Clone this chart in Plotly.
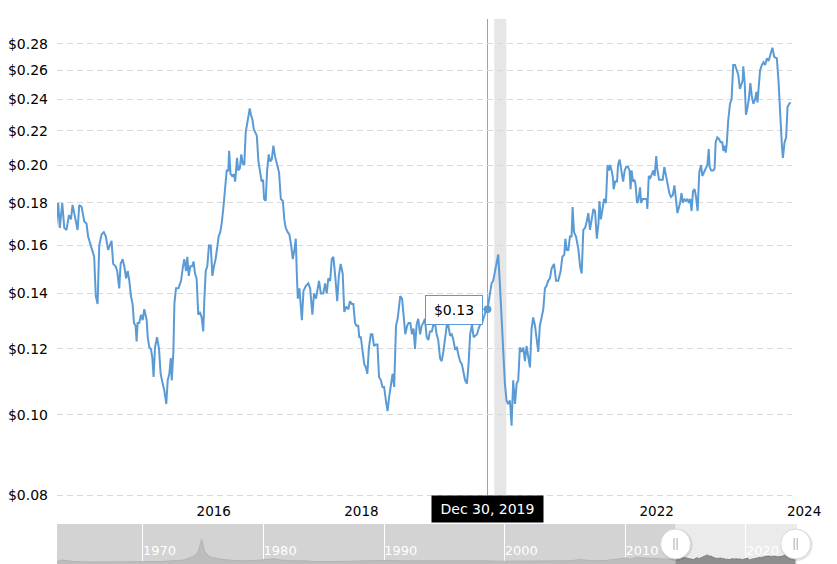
import math
import pandas as pd
import plotly.graph_objects as go

# ---------------- data ----------------
dates = [
"2014-02-23","2014-03-06","2014-03-14","2014-03-26","2014-04-05","2014-04-16","2014-04-28","2014-05-08","2014-05-16","2014-05-28",
"2014-06-10","2014-06-18","2014-06-30","2014-07-13","2014-07-24","2014-08-01","2014-08-10","2014-08-21","2014-08-31","2014-09-08",
"2014-09-17","2014-09-25","2014-10-07","2014-10-18","2014-10-28","2014-11-08","2014-11-17","2014-11-25","2014-12-03","2014-12-15",
"2014-12-23",
"2015-01-02","2015-01-09","2015-01-19","2015-01-27","2015-02-05","2015-02-13","2015-02-21","2015-03-01","2015-03-09","2015-03-16",
"2015-03-24","2015-03-29","2015-04-03","2015-04-11","2015-04-20","2015-04-28","2015-05-06","2015-05-18","2015-05-23","2015-05-31",
"2015-06-08","2015-06-15","2015-06-21","2015-06-28","2015-07-08","2015-07-18","2015-07-26","2015-08-05","2015-08-13","2015-08-23",
"2015-08-30","2015-09-07","2015-09-14","2015-09-19","2015-09-27","2015-10-02","2015-10-10","2015-10-22","2015-11-04","2015-11-12",
"2015-11-20","2015-11-29","2015-12-05","2015-12-12","2015-12-20","2015-12-29",
"2016-01-05","2016-01-12","2016-01-20","2016-01-28","2016-02-05","2016-02-14","2016-02-22","2016-02-27","2016-03-05","2016-03-13",
"2016-03-21","2016-03-30","2016-04-07","2016-04-15","2016-04-23","2016-05-01","2016-05-08","2016-05-16","2016-05-23","2016-05-31",
"2016-06-08","2016-06-17","2016-06-25","2016-06-29","2016-07-06","2016-07-14","2016-07-23","2016-07-29","2016-08-07","2016-08-13",
"2016-08-21","2016-08-28","2016-09-04","2016-09-12","2016-09-19","2016-09-25","2016-10-02","2016-10-09","2016-10-15","2016-10-22",
"2016-10-29","2016-11-04","2016-11-13","2016-11-21","2016-11-29","2016-12-07","2016-12-14","2016-12-19","2016-12-27",
"2017-01-03","2017-01-11","2017-01-18","2017-01-26","2017-02-03","2017-02-11","2017-02-20","2017-03-03","2017-03-12","2017-03-22",
"2017-03-29","2017-04-05","2017-04-15","2017-04-23","2017-05-02","2017-05-10","2017-05-18","2017-05-25","2017-05-30","2017-06-04",
"2017-06-12","2017-06-24","2017-07-02","2017-07-14","2017-07-26","2017-08-04","2017-08-15","2017-08-23","2017-09-02","2017-09-09",
"2017-09-17","2017-09-26","2017-10-08","2017-10-17","2017-10-25","2017-11-02","2017-11-11","2017-11-19","2017-11-27","2017-12-06",
"2017-12-16","2017-12-24",
"2018-01-02","2018-01-12","2018-01-20","2018-01-29","2018-02-09","2018-02-17","2018-02-26","2018-03-06","2018-03-14","2018-03-22",
"2018-03-30","2018-04-04","2018-04-12","2018-04-21","2018-04-29","2018-05-07","2018-05-14","2018-05-22","2018-05-31","2018-06-08",
"2018-06-16","2018-06-25","2018-07-03","2018-07-11","2018-07-20","2018-07-28","2018-08-05","2018-08-14","2018-08-22","2018-08-30",
"2018-09-08","2018-09-16","2018-09-24","2018-10-03","2018-10-11","2018-10-24","2018-11-02","2018-11-10","2018-11-18","2018-11-27",
"2018-12-04","2018-12-13","2018-12-21","2018-12-29",
"2019-01-05","2019-01-13","2019-01-21","2019-01-30","2019-02-07","2019-02-15","2019-02-23","2019-03-04","2019-03-12","2019-03-20",
"2019-03-29","2019-04-05","2019-04-14","2019-04-22","2019-04-30","2019-05-09","2019-05-17","2019-05-25","2019-06-03","2019-06-11",
"2019-06-19","2019-06-28","2019-07-06","2019-07-14","2019-07-22","2019-07-31","2019-08-08","2019-08-16","2019-08-25","2019-09-02",
"2019-09-10","2019-09-19","2019-09-27","2019-10-05","2019-10-14","2019-10-22","2019-10-30","2019-11-08","2019-11-16","2019-11-24",
"2019-12-03","2019-12-11","2019-12-20","2019-12-30",
"2020-01-11","2020-01-19","2020-01-27","2020-02-05","2020-02-13","2020-02-21","2020-02-29","2020-03-09","2020-03-17","2020-03-25",
"2020-04-02","2020-04-10","2020-04-19","2020-04-27","2020-05-05","2020-05-14","2020-05-22","2020-05-30","2020-06-07","2020-06-16",
"2020-06-24","2020-07-02","2020-07-10","2020-07-18","2020-07-27","2020-08-04","2020-08-12","2020-08-21","2020-08-29","2020-09-06",
"2020-09-14","2020-09-23","2020-10-01","2020-10-09","2020-10-17","2020-10-25","2020-11-03","2020-11-11","2020-11-23","2020-12-03",
"2020-12-14","2020-12-26",
"2021-01-03","2021-01-13","2021-01-18","2021-01-25","2021-02-02","2021-02-10","2021-02-18","2021-02-23","2021-03-02","2021-03-12",
"2021-03-24","2021-04-01","2021-04-09","2021-04-17","2021-04-26","2021-05-04","2021-05-12","2021-05-20","2021-05-29","2021-06-06",
"2021-06-14","2021-06-23","2021-07-01","2021-07-06","2021-07-13","2021-07-21","2021-07-29","2021-08-07","2021-08-15","2021-08-22",
"2021-08-28","2021-09-04","2021-09-11","2021-09-14","2021-09-22","2021-10-01","2021-10-06","2021-10-14","2021-10-22","2021-10-31",
"2021-11-08","2021-11-16","2021-11-24","2021-12-02","2021-12-07","2021-12-12","2021-12-19","2021-12-26","2021-12-31",
"2022-01-08","2022-01-14","2022-01-23","2022-01-28","2022-02-05","2022-02-16","2022-02-25","2022-02-28","2022-03-07","2022-03-15",
"2022-03-22","2022-03-30","2022-04-05","2022-04-13","2022-04-18","2022-04-27","2022-05-07","2022-05-15","2022-05-23","2022-06-01",
"2022-06-09","2022-06-17","2022-06-25","2022-07-04","2022-07-12","2022-07-19","2022-07-27","2022-08-04","2022-08-09","2022-08-16",
"2022-08-23","2022-08-29","2022-09-07","2022-09-15","2022-09-22","2022-09-28","2022-10-05","2022-10-12","2022-10-20","2022-10-27",
"2022-11-04","2022-11-12","2022-11-21","2022-11-27","2022-12-06","2022-12-14","2022-12-22","2022-12-29",
"2023-01-02","2023-01-10","2023-01-20","2023-01-27","2023-02-01","2023-02-09","2023-02-17","2023-02-26","2023-03-06","2023-03-11",
"2023-03-18","2023-03-23","2023-03-28","2023-04-04","2023-04-13","2023-04-21","2023-04-29","2023-05-08","2023-05-16","2023-05-24",
"2023-06-01","2023-06-08","2023-06-15","2023-06-18","2023-06-25","2023-07-01","2023-07-08","2023-07-16","2023-07-23","2023-07-30",
"2023-08-07","2023-08-15","2023-08-22","2023-08-27","2023-09-03","2023-09-09","2023-09-18","2023-09-26","2023-10-04","2023-10-13",
"2023-10-21","2023-10-29","2023-11-09","2023-11-18","2023-12-01","2023-12-09","2023-12-18","2023-12-26","2023-12-31",
"2024-01-08","2024-01-16","2024-01-23","2024-01-31","2024-02-07",
]

prices = [
0.168,0.180,0.168,0.180,0.168,0.167,0.174,0.172,0.179,0.173,
0.167,0.179,0.178,0.171,0.170,0.164,0.161,0.157,0.155,0.139,
0.136,0.160,0.165,0.166,0.164,0.158,0.160,0.162,0.152,0.151,
0.149,
0.142,0.152,0.154,0.151,0.146,0.149,0.145,0.139,0.136,0.129,
0.128,0.1225,0.129,0.129,0.132,0.130,0.134,0.130,0.124,0.1205,
0.120,0.117,0.111,0.1205,0.124,0.120,0.112,0.109,0.107,0.103,
0.110,0.112,0.117,0.110,0.119,0.136,0.142,0.142,0.145,0.150,
0.154,0.149,0.155,0.147,0.151,0.151,
0.153,0.148,0.146,0.132,0.133,0.131,0.126,0.137,0.149,0.151,
0.160,0.160,0.147,0.151,0.154,0.159,0.164,0.166,0.170,0.177,
0.185,0.197,0.197,0.208,0.195,0.194,0.195,0.191,0.204,0.197,
0.198,0.206,0.201,0.200,0.219,0.223,0.229,0.234,0.230,0.227,
0.221,0.219,0.217,0.202,0.197,0.191,0.192,0.182,0.181,
0.197,0.206,0.202,0.203,0.211,0.205,0.201,0.196,0.182,0.181,
0.172,0.168,0.166,0.165,0.160,0.154,0.158,0.163,0.148,0.138,
0.142,0.130,0.141,0.143,0.144,0.142,0.132,0.140,0.138,0.142,
0.145,0.140,0.140,0.144,0.140,0.146,0.145,0.154,0.155,0.147,
0.137,0.147,
0.152,0.148,0.133,0.135,0.134,0.137,0.136,0.136,0.129,0.128,
0.128,0.124,0.124,0.119,0.115,0.114,0.112,0.1205,0.125,0.125,
0.121,0.1215,0.1215,0.111,0.110,0.108,0.108,0.104,0.101,0.105,
0.108,0.112,0.108,0.128,0.1305,0.139,0.138,0.132,0.125,0.128,
0.129,0.129,0.125,0.127,
0.120,0.1285,0.1305,0.125,0.128,0.129,0.1305,0.124,0.123,0.126,
0.126,0.128,0.129,0.125,0.123,0.117,0.116,0.119,0.124,0.128,
0.128,0.1245,0.125,0.123,0.120,0.1205,0.118,0.116,0.115,0.112,
0.110,0.109,0.115,0.125,0.1285,0.124,0.1245,0.125,0.127,0.1285,
0.129,0.131,0.133,0.134,
0.140,0.144,0.145,0.149,0.153,0.156,0.144,0.129,0.117,0.109,
0.104,0.103,0.104,0.097,0.110,0.103,0.109,0.110,0.1205,0.119,
0.1205,0.116,0.121,0.118,0.114,0.127,0.131,0.128,0.124,0.119,
0.128,0.132,0.134,0.142,0.143,0.145,0.146,0.150,0.152,0.145,
0.145,0.149,
0.155,0.156,0.163,0.158,0.158,0.164,0.164,0.178,0.166,0.164,
0.158,0.151,0.148,0.167,0.168,0.171,0.175,0.167,0.173,0.177,
0.176,0.163,0.170,0.181,0.172,0.177,0.182,0.180,0.200,0.197,
0.200,0.197,0.193,0.187,0.191,0.191,0.200,0.203,0.197,0.191,
0.197,0.199,0.199,0.197,0.187,0.197,0.191,0.192,0.190,
0.180,0.181,0.188,0.180,0.182,0.182,0.182,0.177,0.194,0.193,
0.195,0.197,0.194,0.205,0.198,0.192,0.192,0.192,0.199,0.194,
0.190,0.185,0.183,0.184,0.189,0.181,0.175,0.178,0.180,0.185,
0.180,0.182,0.181,0.182,0.180,0.182,0.176,0.186,0.187,0.183,
0.176,0.196,0.200,0.194,0.196,0.198,0.200,0.209,
0.199,0.197,0.197,0.198,0.213,0.216,0.215,0.213,0.213,0.208,
0.211,0.207,0.212,0.226,0.237,0.240,0.264,0.264,0.261,0.257,
0.247,0.250,0.253,0.263,0.251,0.230,0.234,0.241,0.251,0.242,
0.237,0.240,0.245,0.238,0.252,0.260,0.264,0.266,0.264,0.269,
0.267,0.272,0.277,0.270,0.269,0.253,0.226,0.211,0.204,
0.213,0.216,0.235,0.237,0.238,
]

# hovered point shown in the tooltip
hover_date = ["2019-12-30"]
hover_value = [0.134]
hover_label = "$0.13"
hover_date_label = "Dec 30, 2019"

# recession band
recession_start = "2020-02-01"
recession_end = "2020-04-01"

# x-axis ticks (the 2020 label is hidden behind the date label in the reference)
x_tickvals = ["2016-01-01", "2018-01-01", "2022-01-01", "2024-01-01"]
x_ticktext = ["2016", "2018", "2022", "2024"]

# y-axis ticks
y_tickvals = [0.08, 0.10, 0.12, 0.14, 0.16, 0.18, 0.20, 0.22, 0.24, 0.26, 0.28]
y_ticktext = ["$0.08", "$0.10", "$0.12", "$0.14", "$0.16", "$0.18", "$0.20", "$0.22", "$0.24", "$0.26", "$0.28"]

# navigator (full history, before the selected window)
nav_dates = [
"1962-11-15","1963-05-01","1963-11-01","1964-06-01","1965-06-01","1966-06-01","1967-06-01","1968-06-01","1969-06-01","1970-06-01",
"1971-06-01","1972-06-01","1973-06-01","1974-04-01","1974-08-01","1974-11-15","1975-02-01","1975-07-01","1976-06-01","1977-06-01",
"1978-06-01","1979-06-01","1980-05-01","1980-11-01","1981-06-01","1982-06-01","1983-06-01","1984-06-01","1985-06-01","1986-06-01",
"1987-06-01","1988-06-01","1989-06-01","1990-06-01","1991-06-01","1992-06-01","1993-06-01","1994-06-01","1995-06-01","1996-06-01",
"1997-06-01","1998-06-01","1999-06-01","2000-06-01","2001-06-01","2002-06-01","2003-06-01","2004-06-01","2005-06-01","2006-03-01",
"2007-06-01","2008-06-01","2009-09-01","2010-02-01","2010-06-01","2011-01-01","2011-06-01","2012-06-01","2013-06-01","2014-02-23",
]
nav_values = [
0.06,0.10,0.08,0.06,0.05,0.05,0.05,0.05,0.06,0.06,
0.06,0.08,0.10,0.20,0.30,0.62,0.33,0.18,0.12,0.09,
0.08,0.09,0.11,0.13,0.10,0.08,0.08,0.06,0.06,0.06,
0.07,0.08,0.09,0.09,0.08,0.08,0.08,0.09,0.09,0.09,
0.09,0.08,0.07,0.07,0.07,0.07,0.07,0.07,0.08,0.11,
0.08,0.09,0.13,0.15,0.12,0.17,0.15,0.13,0.12,0.12,
]
nav_tick0 = "1970-01-01"

# ---------------- layout constants ----------------
W, H = 837, 564
ML, MR, MT, MB = 57, 40, 19, 0
main_range = ["2014-02-28", "2024-02-14"]
nav_range = ["1962-11-15", "2024-03-25"]
LINE = "#5b9bd5"
FONT = "DejaVu Sans"
PX_PER_DECADE = 829.0

plot_w = W - ML - MR
plot_h = H - MT - MB
main_dom_x = [0, (792 - ML) / plot_w]
# the main panel reaches 2px below the $0.08 grid line so that line is drawn
main_dom_y = [(H - 497 - MB) / plot_h, 1]
y_lo = math.log10(0.08) - 2 / PX_PER_DECADE
nav_dom_y = [0, 40 / plot_h]


def nav_paper_x(d):
    t0 = pd.Timestamp(nav_range[0]).value
    t1 = pd.Timestamp(nav_range[1]).value
    return (pd.Timestamp(d).value - t0) / (t1 - t0)


fig = go.Figure()

# main series
fig.add_trace(go.Scatter(
    x=dates, y=prices, mode="lines",
    line=dict(color=LINE, width=2),
    xaxis="x", yaxis="y", hoverinfo="skip", showlegend=False,
))
# hovered marker
fig.add_trace(go.Scatter(
    x=hover_date, y=hover_value, mode="markers",
    marker=dict(color=LINE, size=7, line=dict(color=LINE, width=1)),
    xaxis="x", yaxis="y", hoverinfo="skip", showlegend=False,
))

# navigator series: history (unselected) + selected window
fig.add_trace(go.Scatter(
    x=nav_dates, y=nav_values, mode="lines", fill="tozeroy",
    line=dict(color="#b4b4b4", width=1), fillcolor="#bdbdbd",
    xaxis="x2", yaxis="y2", hoverinfo="skip", showlegend=False,
))
fig.add_trace(go.Scatter(
    x=dates, y=prices, mode="lines", fill="tozeroy",
    line=dict(color="#7d7d7d", width=1), fillcolor="#8e8e8e",
    xaxis="x2", yaxis="y2", hoverinfo="skip", showlegend=False,
))

band_top = math.log10(0.30)
band_bot = math.log10(0.08)
shapes = [
    # recession band
    dict(type="rect", xref="x", yref="y", x0=recession_start, x1=recession_end,
         y0=0.08, y1=0.30, fillcolor="#e6e6e6", line=dict(width=0), layer="below"),
    # crosshair
    dict(type="line", xref="x", yref="y", x0=hover_date[0], x1=hover_date[0],
         y0=0.08, y1=0.30, line=dict(color="#a0a0a0", width=1), layer="below"),
    # navigator backgrounds
    dict(type="rect", xref="x2", yref="y2 domain", x0=nav_range[0], x1=main_range[0],
         y0=0, y1=1, fillcolor="#d3d3d3", line=dict(width=0), layer="below"),
    dict(type="rect", xref="x2", yref="y2 domain", x0=main_range[0], x1=nav_range[1],
         y0=0, y1=1, fillcolor="#ebebeb", line=dict(width=0), layer="below"),
]

handle_y = (H - 544 - MB) / plot_h
annotations = []
for d in [main_range[0], main_range[1]]:
    px = nav_paper_x(d)
    shapes.append(dict(type="circle", xref="paper", yref="paper",
                       xsizemode="pixel", ysizemode="pixel", xanchor=px, yanchor=handle_y,
                       x0=-15, x1=17, y0=-17, y1=15,
                       fillcolor="rgba(0,0,0,0.10)", line=dict(width=0), layer="above"))
    shapes.append(dict(type="circle", xref="paper", yref="paper",
                       xsizemode="pixel", ysizemode="pixel", xanchor=px, yanchor=handle_y,
                       x0=-15, x1=15, y0=-15, y1=15,
                       fillcolor="#ffffff", line=dict(color="#d9d9d9", width=1), layer="above"))
    for off in (-1.5, 1.5):
        shapes.append(dict(type="line", xref="paper", yref="paper",
                           xsizemode="pixel", ysizemode="pixel", xanchor=px, yanchor=handle_y,
                           x0=off, x1=off, y0=-6, y1=6,
                           line=dict(color="#a8a8a8", width=1), layer="above"))

# tooltip
annotations.append(dict(
    x=hover_date[0], y=math.log10(hover_value[0]), xref="x", yref="y",
    text=hover_label, showarrow=True, arrowhead=0, arrowwidth=1.2, arrowcolor=LINE,
    ax=-34, ay=1, standoff=0,
    bgcolor="#ffffff", bordercolor=LINE, borderwidth=1, borderpad=1,
    width=54, height=26, font=dict(family=FONT, size=14, color="#000000"),
))
# date label on the axis
annotations.append(dict(
    x=hover_date[0], y=(H - 509 - MB) / plot_h, xref="x", yref="paper",
    xanchor="center", yanchor="middle",
    text=hover_date_label, showarrow=False,
    bgcolor="#000000", borderpad=2, width=107, height=22,
    font=dict(family=FONT, size=14, color="#ffffff"),
))

fig.update_layout(
    width=W, height=H,
    margin=dict(l=ML, r=MR, t=MT, b=MB, pad=0),
    paper_bgcolor="#ffffff", plot_bgcolor="#ffffff",
    font=dict(family=FONT, color="#000000"),
    showlegend=False, hovermode=False,
    shapes=shapes, annotations=annotations,
    xaxis=dict(
        domain=main_dom_x, anchor="y", type="date", range=main_range,
        tickvals=x_tickvals, ticktext=x_ticktext,
        showgrid=False, zeroline=False, showline=False, ticks="",
        ticklabelshift=21, ticklabelstandoff=4,
        tickfont=dict(family=FONT, size=13.5, color="#000000"),
        automargin=False, fixedrange=True,
    ),
    yaxis=dict(
        domain=main_dom_y, anchor="x", type="log",
        range=[y_lo, math.log10(0.30)],
        tickvals=y_tickvals, ticktext=y_ticktext,
        showgrid=True, gridcolor="#d9d9d9", griddash="6px,4px", gridwidth=1,
        zeroline=False, showline=False, ticks="", ticklabelstandoff=8,
        tickfont=dict(family=FONT, size=14, color="#000000"),
        automargin=False, fixedrange=True,
    ),
    xaxis2=dict(
        domain=[0, 1], anchor="y2", type="date", range=nav_range,
        tick0=nav_tick0, dtick="M120", tickformat="%Y",
        showgrid=True, gridcolor="#ffffff", gridwidth=1,
        zeroline=False, showline=False, ticks="",
        ticklabelposition="inside right",
        tickfont=dict(family=FONT, size=13, color="#ffffff"),
        automargin=False, fixedrange=True,
    ),
    yaxis2=dict(
        domain=nav_dom_y, anchor="x2", range=[0, 1.0],
        showgrid=False, zeroline=False, showline=False, showticklabels=False, ticks="",
        automargin=False, fixedrange=True,
    ),
)

fig.write_html("out.html", include_plotlyjs=True, config={"displayModeBar": False})
